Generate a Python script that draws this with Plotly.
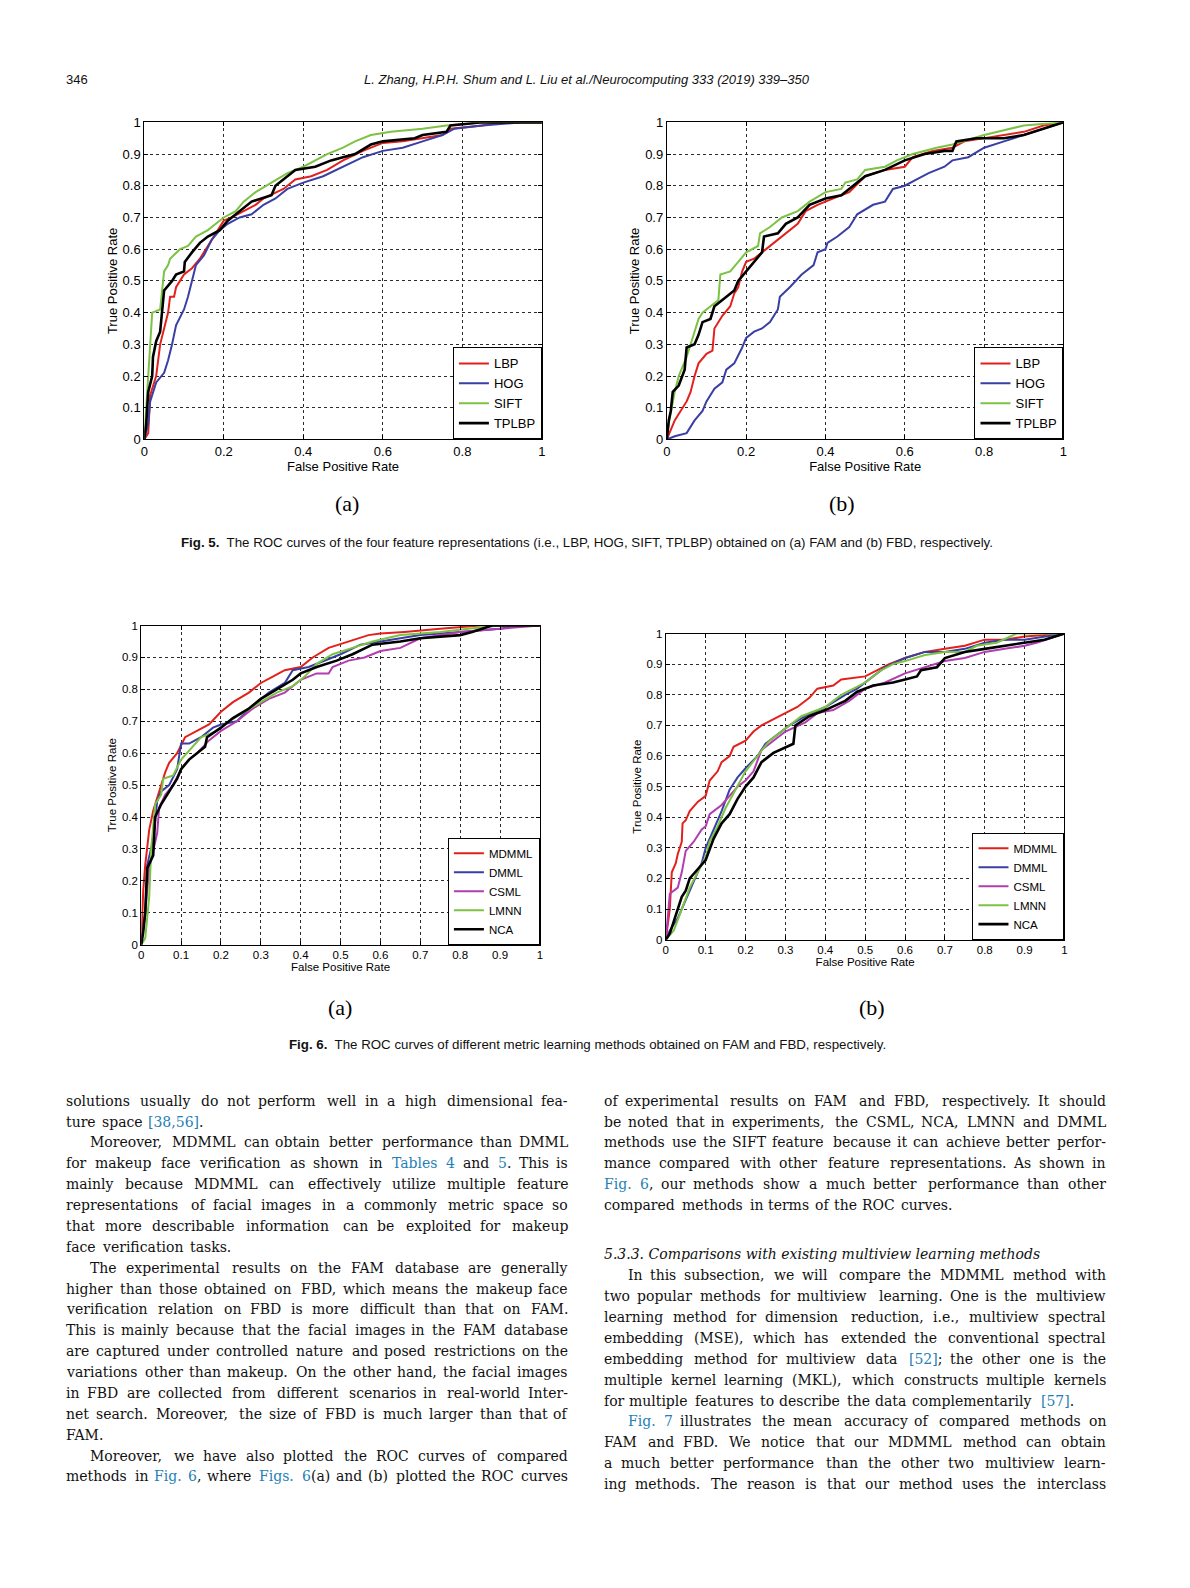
import plotly.graph_objects as go

W, H = 1190, 1588          # page size of the reference
PAGE_OFF = 8               # html body margin
FIG_W, FIG_H = W - 2 * PAGE_OFF, H - 2 * PAGE_OFF - 6
# measured mapping between requested and photographed positions (compensated below)
SX, CX = 0.994, 2.7
SY, CY = 0.990, 6.8
LEFT_BEARING = 2.5         # left-anchored text starts this far right of its anchor

# ---------------- DATA ----------------
# Fig. 5 (a) FAM
f5a_lbp_fpr = [0, 0.01, 0.015, 0.03, 0.04, 0.05, 0.06, 0.065, 0.075, 0.08, 0.1, 0.12, 0.14, 0.16, 0.18, 0.2, 0.22, 0.25, 0.28, 0.3, 0.35, 0.38, 0.42, 0.46, 0.5, 0.55, 0.6, 0.65, 0.7, 0.75, 0.77, 0.85, 0.9, 1]
f5a_lbp_tpr = [0, 0.02, 0.14, 0.2, 0.3, 0.35, 0.4, 0.45, 0.45, 0.48, 0.52, 0.54, 0.57, 0.61, 0.65, 0.69, 0.7, 0.72, 0.74, 0.76, 0.79, 0.82, 0.83, 0.85, 0.88, 0.91, 0.935, 0.94, 0.95, 0.96, 0.98, 0.99, 1.0, 1]
f5a_hog_fpr = [0, 0.01, 0.015, 0.03, 0.05, 0.06, 0.07, 0.08, 0.1, 0.11, 0.12, 0.13, 0.15, 0.17, 0.19, 0.21, 0.24, 0.27, 0.3, 0.33, 0.36, 0.4, 0.45, 0.5, 0.55, 0.6, 0.65, 0.7, 0.75, 0.78, 0.85, 0.95, 1]
f5a_hog_tpr = [0, 0.05, 0.12, 0.18, 0.21, 0.25, 0.3, 0.36, 0.41, 0.45, 0.5, 0.55, 0.58, 0.63, 0.66, 0.68, 0.7, 0.71, 0.74, 0.76, 0.79, 0.81, 0.83, 0.86, 0.89, 0.91, 0.92, 0.94, 0.96, 0.98, 0.99, 1.0, 1]
f5a_sift_fpr = [0, 0.005, 0.01, 0.015, 0.02, 0.04, 0.045, 0.05, 0.06, 0.065, 0.09, 0.11, 0.13, 0.16, 0.18, 0.2, 0.23, 0.25, 0.28, 0.32, 0.36, 0.4, 0.43, 0.46, 0.5, 0.53, 0.57, 0.62, 0.7, 0.76, 0.85, 1]
f5a_sift_tpr = [0, 0.1, 0.17, 0.3, 0.4, 0.41, 0.48, 0.53, 0.55, 0.57, 0.6, 0.61, 0.64, 0.66, 0.68, 0.7, 0.72, 0.75, 0.78, 0.81, 0.84, 0.86, 0.88, 0.9, 0.92, 0.94, 0.96, 0.97, 0.98, 0.99, 1.0, 1]
f5a_tplbp_fpr = [0, 0.005, 0.01, 0.02, 0.022, 0.03, 0.04, 0.045, 0.05, 0.07, 0.08, 0.1, 0.102, 0.12, 0.14, 0.16, 0.19, 0.21, 0.24, 0.27, 0.32, 0.33, 0.36, 0.38, 0.43, 0.47, 0.53, 0.57, 0.6, 0.68, 0.7, 0.76, 0.77, 0.85, 1]
f5a_tplbp_tpr = [0, 0.05, 0.15, 0.2, 0.26, 0.31, 0.34, 0.4, 0.47, 0.5, 0.52, 0.53, 0.56, 0.59, 0.62, 0.64, 0.66, 0.69, 0.72, 0.75, 0.77, 0.8, 0.83, 0.85, 0.86, 0.88, 0.9, 0.93, 0.94, 0.95, 0.96, 0.97, 0.99, 1.0, 1]

# Fig. 5 (b) FBD
f5b_lbp_fpr = [0, 0.01, 0.02, 0.03, 0.04, 0.05, 0.06, 0.07, 0.08, 0.1, 0.115, 0.12, 0.14, 0.16, 0.17, 0.18, 0.19, 0.2, 0.22, 0.25, 0.28, 0.31, 0.33, 0.35, 0.38, 0.42, 0.46, 0.5, 0.55, 0.6, 0.62, 0.67, 0.72, 0.75, 0.8, 0.9, 0.95, 1]
f5b_lbp_tpr = [0, 0.03, 0.06, 0.08, 0.1, 0.12, 0.15, 0.2, 0.24, 0.27, 0.28, 0.35, 0.39, 0.42, 0.46, 0.48, 0.53, 0.56, 0.57, 0.6, 0.63, 0.66, 0.68, 0.72, 0.74, 0.76, 0.78, 0.83, 0.85, 0.86, 0.89, 0.91, 0.92, 0.94, 0.95, 0.97, 0.99, 1]
f5b_hog_fpr = [0, 0.02, 0.05, 0.07, 0.09, 0.1, 0.12, 0.14, 0.15, 0.17, 0.19, 0.2, 0.22, 0.24, 0.26, 0.28, 0.285, 0.31, 0.34, 0.37, 0.38, 0.4, 0.405, 0.43, 0.46, 0.48, 0.52, 0.55, 0.57, 0.6, 0.63, 0.66, 0.7, 0.72, 0.76, 0.8, 0.85, 0.9, 0.95, 1]
f5b_hog_tpr = [0, 0.01, 0.02, 0.06, 0.09, 0.12, 0.16, 0.18, 0.22, 0.24, 0.29, 0.32, 0.34, 0.35, 0.37, 0.41, 0.45, 0.48, 0.52, 0.55, 0.59, 0.6, 0.62, 0.64, 0.67, 0.71, 0.74, 0.75, 0.79, 0.8, 0.82, 0.84, 0.86, 0.88, 0.89, 0.92, 0.94, 0.96, 0.98, 1]
f5b_sift_fpr = [0, 0.005, 0.02, 0.03, 0.05, 0.06, 0.07, 0.08, 0.09, 0.11, 0.13, 0.135, 0.16, 0.18, 0.2, 0.23, 0.235, 0.26, 0.29, 0.33, 0.36, 0.4, 0.44, 0.45, 0.48, 0.5, 0.55, 0.58, 0.62, 0.68, 0.72, 0.8, 0.9, 1]
f5b_sift_tpr = [0, 0.05, 0.15, 0.2, 0.26, 0.3, 0.34, 0.38, 0.4, 0.42, 0.44, 0.52, 0.53, 0.56, 0.59, 0.61, 0.65, 0.67, 0.7, 0.72, 0.75, 0.78, 0.79, 0.81, 0.82, 0.85, 0.86, 0.88, 0.9, 0.92, 0.93, 0.96, 0.99, 1]
f5b_tplbp_fpr = [0, 0.005, 0.01, 0.015, 0.03, 0.04, 0.045, 0.05, 0.07, 0.08, 0.09, 0.11, 0.12, 0.14, 0.17, 0.18, 0.2, 0.22, 0.24, 0.245, 0.28, 0.3, 0.33, 0.36, 0.4, 0.44, 0.47, 0.5, 0.55, 0.6, 0.65, 0.7, 0.72, 0.73, 0.78, 0.85, 0.9, 0.95, 1]
f5b_tplbp_tpr = [0, 0.06, 0.09, 0.15, 0.17, 0.2, 0.22, 0.29, 0.3, 0.33, 0.37, 0.38, 0.42, 0.44, 0.47, 0.5, 0.53, 0.56, 0.59, 0.64, 0.65, 0.68, 0.7, 0.74, 0.76, 0.77, 0.8, 0.83, 0.85, 0.88, 0.9, 0.91, 0.91, 0.94, 0.95, 0.95, 0.96, 0.98, 1]

# Fig. 6 (a) FAM
f6a_mdmml_fpr = [0, 0.005, 0.01, 0.015, 0.02, 0.03, 0.05, 0.06, 0.07, 0.09, 0.11, 0.14, 0.17, 0.2, 0.23, 0.27, 0.3, 0.33, 0.36, 0.4, 0.43, 0.47, 0.52, 0.57, 0.6, 0.66, 0.75, 0.85, 1]
f6a_mdmml_tpr = [0, 0.17, 0.25, 0.3, 0.36, 0.42, 0.5, 0.54, 0.57, 0.6, 0.65, 0.67, 0.69, 0.73, 0.76, 0.79, 0.82, 0.84, 0.86, 0.87, 0.9, 0.93, 0.95, 0.97, 0.975, 0.98, 0.99, 1.0, 1]
f6a_dmml_fpr = [0, 0.01, 0.015, 0.03, 0.04, 0.05, 0.07, 0.09, 0.1, 0.12, 0.15, 0.18, 0.2, 0.24, 0.28, 0.32, 0.36, 0.38, 0.42, 0.46, 0.5, 0.55, 0.6, 0.7, 0.8, 0.9, 0.95, 1]
f6a_dmml_tpr = [0, 0.1, 0.25, 0.33, 0.45, 0.48, 0.5, 0.55, 0.63, 0.63, 0.65, 0.68, 0.69, 0.7, 0.75, 0.79, 0.82, 0.86, 0.87, 0.89, 0.91, 0.94, 0.95, 0.97, 0.98, 0.99, 1.0, 1]
f6a_csml_fpr = [0, 0.01, 0.02, 0.03, 0.04, 0.045, 0.06, 0.08, 0.1, 0.12, 0.14, 0.17, 0.2, 0.24, 0.28, 0.32, 0.36, 0.4, 0.44, 0.47, 0.48, 0.52, 0.56, 0.6, 0.65, 0.7, 0.8, 0.9, 1]
f6a_csml_tpr = [0, 0.1, 0.24, 0.3, 0.35, 0.43, 0.47, 0.5, 0.55, 0.58, 0.6, 0.64, 0.67, 0.7, 0.74, 0.77, 0.79, 0.83, 0.85, 0.85, 0.87, 0.89, 0.9, 0.92, 0.93, 0.96, 0.98, 0.99, 1]
f6a_lmnn_fpr = [0, 0.01, 0.02, 0.025, 0.035, 0.05, 0.055, 0.08, 0.1, 0.13, 0.15, 0.19, 0.22, 0.26, 0.3, 0.34, 0.38, 0.41, 0.44, 0.48, 0.53, 0.58, 0.65, 0.75, 0.82, 0.9, 1]
f6a_lmnn_tpr = [0, 0.02, 0.15, 0.3, 0.44, 0.47, 0.52, 0.53, 0.58, 0.62, 0.65, 0.67, 0.7, 0.73, 0.76, 0.79, 0.81, 0.84, 0.88, 0.91, 0.93, 0.95, 0.97, 0.98, 0.99, 1.0, 1]
f6a_nca_fpr = [0, 0.005, 0.01, 0.015, 0.03, 0.035, 0.05, 0.07, 0.09, 0.1, 0.12, 0.15, 0.16, 0.165, 0.2, 0.23, 0.27, 0.3, 0.34, 0.38, 0.4, 0.44, 0.49, 0.53, 0.58, 0.65, 0.7, 0.8, 0.83, 0.88, 1]
f6a_nca_tpr = [0, 0.04, 0.1, 0.24, 0.28, 0.4, 0.44, 0.48, 0.52, 0.55, 0.58, 0.61, 0.62, 0.65, 0.68, 0.71, 0.74, 0.77, 0.8, 0.83, 0.85, 0.87, 0.89, 0.91, 0.94, 0.95, 0.96, 0.97, 0.98, 1.0, 1]

# Fig. 6 (b) FBD
f6b_mdmml_fpr = [0, 0.005, 0.01, 0.015, 0.025, 0.03, 0.04, 0.042, 0.05, 0.06, 0.08, 0.1, 0.11, 0.13, 0.14, 0.16, 0.17, 0.2, 0.22, 0.24, 0.27, 0.3, 0.33, 0.36, 0.38, 0.42, 0.44, 0.5, 0.53, 0.56, 0.6, 0.65, 0.7, 0.75, 0.8, 0.85, 0.9, 1]
f6b_mdmml_tpr = [0, 0.06, 0.1, 0.22, 0.25, 0.28, 0.32, 0.38, 0.39, 0.42, 0.45, 0.47, 0.52, 0.55, 0.58, 0.6, 0.63, 0.65, 0.68, 0.7, 0.72, 0.74, 0.76, 0.79, 0.82, 0.83, 0.85, 0.86, 0.88, 0.9, 0.92, 0.94, 0.95, 0.96, 0.98, 0.98, 0.99, 1]
f6b_dmml_fpr = [0, 0.01, 0.03, 0.05, 0.07, 0.09, 0.1, 0.12, 0.14, 0.16, 0.18, 0.2, 0.23, 0.25, 0.28, 0.31, 0.35, 0.4, 0.45, 0.48, 0.52, 0.55, 0.6, 0.65, 0.7, 0.75, 0.8, 0.85, 0.9, 0.95, 1]
f6b_dmml_tpr = [0, 0.03, 0.07, 0.13, 0.19, 0.25, 0.3, 0.36, 0.42, 0.49, 0.53, 0.56, 0.6, 0.64, 0.67, 0.7, 0.73, 0.76, 0.8, 0.82, 0.86, 0.89, 0.92, 0.94, 0.94, 0.95, 0.97, 0.98, 0.98, 0.99, 1]
f6b_csml_fpr = [0, 0.005, 0.01, 0.03, 0.04, 0.05, 0.07, 0.09, 0.1, 0.11, 0.14, 0.16, 0.18, 0.2, 0.22, 0.24, 0.27, 0.3, 0.35, 0.38, 0.42, 0.46, 0.5, 0.55, 0.6, 0.65, 0.7, 0.75, 0.8, 0.85, 0.9, 0.93, 1]
f6b_csml_tpr = [0, 0.08, 0.15, 0.17, 0.22, 0.29, 0.32, 0.36, 0.37, 0.41, 0.44, 0.47, 0.5, 0.52, 0.55, 0.62, 0.65, 0.68, 0.71, 0.74, 0.75, 0.78, 0.82, 0.84, 0.87, 0.89, 0.91, 0.92, 0.94, 0.95, 0.96, 0.97, 1]
f6b_lmnn_fpr = [0, 0.02, 0.04, 0.06, 0.08, 0.1, 0.11, 0.13, 0.15, 0.17, 0.2, 0.23, 0.26, 0.3, 0.34, 0.4, 0.44, 0.5, 0.54, 0.57, 0.6, 0.65, 0.7, 0.75, 0.78, 0.83, 0.88, 1]
f6b_lmnn_tpr = [0, 0.03, 0.1, 0.17, 0.22, 0.27, 0.32, 0.37, 0.43, 0.48, 0.55, 0.6, 0.65, 0.69, 0.73, 0.76, 0.8, 0.84, 0.88, 0.9, 0.91, 0.93, 0.94, 0.94, 0.96, 0.97, 1.0, 1]
f6b_nca_fpr = [0, 0.01, 0.02, 0.03, 0.04, 0.05, 0.06, 0.08, 0.1, 0.12, 0.14, 0.16, 0.18, 0.2, 0.22, 0.24, 0.27, 0.32, 0.325, 0.36, 0.4, 0.45, 0.48, 0.52, 0.57, 0.6, 0.63, 0.64, 0.68, 0.7, 0.75, 0.8, 0.85, 0.9, 0.95, 1]
f6b_nca_tpr = [0, 0.02, 0.06, 0.1, 0.14, 0.16, 0.2, 0.23, 0.26, 0.33, 0.38, 0.41, 0.46, 0.5, 0.53, 0.58, 0.61, 0.64, 0.7, 0.73, 0.75, 0.78, 0.81, 0.83, 0.84, 0.85, 0.86, 0.88, 0.89, 0.92, 0.94, 0.95, 0.96, 0.97, 0.98, 1]

feature_names = ["LBP", "HOG", "SIFT", "TPLBP"]
method_names = ["MDMML", "DMML", "CSML", "LMNN", "NCA"]
fig5_xticks = [0, 0.2, 0.4, 0.6, 0.8, 1]
fig6_xticks = [0, 0.1, 0.2, 0.3, 0.4, 0.5, 0.6, 0.7, 0.8, 0.9, 1]
yticks = [0, 0.1, 0.2, 0.3, 0.4, 0.5, 0.6, 0.7, 0.8, 0.9, 1]

# ---------------- STYLE ----------------
RED, BLUE, GREEN, BLACK, MAGENTA = "#e3211c", "#3a3fa5", "#7cc243", "#000000", "#b23db0"
SANS = "Liberation Sans, Arial, sans-serif"
SERIF = "DejaVu Serif, serif"
TEXT = "#111111"
LINK = "#1f7fb6"


def fx(p):
    return ((p - CX) / SX - PAGE_OFF) / FIG_W


def fy(p):
    return 1 - ((p - CY) / SY - PAGE_OFF) / FIG_H


def lab(v):
    return f"{v:g}"


fig = go.Figure()

panels = [
    dict(curves=[(feature_names[0], f5a_lbp_fpr, f5a_lbp_tpr, RED, 2),
                 (feature_names[1], f5a_hog_fpr, f5a_hog_tpr, BLUE, 2),
                 (feature_names[2], f5a_sift_fpr, f5a_sift_tpr, GREEN, 2),
                 (feature_names[3], f5a_tplbp_fpr, f5a_tplbp_tpr, BLACK, 2.6)],
         xpx=(143, 541), ypx=(122, 439), xt=fig5_xticks, fs=13, lfs=13),
    dict(curves=[(feature_names[0], f5b_lbp_fpr, f5b_lbp_tpr, RED, 2),
                 (feature_names[1], f5b_hog_fpr, f5b_hog_tpr, BLUE, 2),
                 (feature_names[2], f5b_sift_fpr, f5b_sift_tpr, GREEN, 2),
                 (feature_names[3], f5b_tplbp_fpr, f5b_tplbp_tpr, BLACK, 2.6)],
         xpx=(666, 1063), ypx=(122, 439), xt=fig5_xticks, fs=13, lfs=13),
    dict(curves=[(method_names[0], f6a_mdmml_fpr, f6a_mdmml_tpr, RED, 2),
                 (method_names[1], f6a_dmml_fpr, f6a_dmml_tpr, BLUE, 2),
                 (method_names[2], f6a_csml_fpr, f6a_csml_tpr, MAGENTA, 2),
                 (method_names[3], f6a_lmnn_fpr, f6a_lmnn_tpr, GREEN, 2),
                 (method_names[4], f6a_nca_fpr, f6a_nca_tpr, BLACK, 2.6)],
         xpx=(140, 539), ypx=(625, 944), xt=fig6_xticks, fs=11.5, lfs=11.5),
    dict(curves=[(method_names[0], f6b_mdmml_fpr, f6b_mdmml_tpr, RED, 2),
                 (method_names[1], f6b_dmml_fpr, f6b_dmml_tpr, BLUE, 2),
                 (method_names[2], f6b_csml_fpr, f6b_csml_tpr, MAGENTA, 2),
                 (method_names[3], f6b_lmnn_fpr, f6b_lmnn_tpr, GREEN, 2),
                 (method_names[4], f6b_nca_fpr, f6b_nca_tpr, BLACK, 2.6)],
         xpx=(665, 1064), ypx=(633, 939), xt=fig6_xticks, fs=11.5, lfs=11.5),
]

layout_upd = {}
for i, p in enumerate(panels, start=1):
    suf = "" if i == 1 else str(i)
    leg = "legend" if i == 1 else f"legend{i}"
    for name, x, y, c, w in p["curves"]:
        fig.add_trace(go.Scatter(x=x, y=y, mode="lines", name=name,
                                 line=dict(color=c, width=w),
                                 xaxis="x" + suf, yaxis="y" + suf, legend=leg,
                                 hoverinfo="skip"))
    common = dict(range=[0, 1], ticks="inside", ticklen=4, tickcolor="black",
                  showline=True, linecolor="black", linewidth=1, mirror="ticks",
                  showgrid=True, gridcolor="#2a2a2a", griddash="dot", gridwidth=1,
                  zeroline=False, fixedrange=True,
                  tickfont=dict(family=SANS, size=p["fs"], color="black"))
    x0, x1 = p["xpx"]
    y0, y1 = p["ypx"]
    layout_upd["xaxis" + suf] = dict(
        common, domain=[fx(x0), fx(x1)], anchor="y" + suf,
        tickvals=p["xt"], ticktext=[lab(v) for v in p["xt"]],
        title=dict(text="False Positive Rate", standoff=2,
                   font=dict(family=SANS, size=p["fs"], color="black")))
    layout_upd["yaxis" + suf] = dict(
        common, domain=[fy(y1), fy(y0)], anchor="x" + suf,
        tickvals=yticks, ticktext=[lab(v) for v in yticks],
        title=dict(text="True Positive Rate", standoff=2,
                   font=dict(family=SANS, size=p["fs"], color="black")))
    layout_upd[leg] = dict(x=fx(x1), y=fy(y1), xanchor="right", yanchor="bottom",
                           bordercolor="black", borderwidth=1, bgcolor="white",
                           font=dict(family=SANS, size=p["lfs"], color="black"),
                           itemwidth=30, tracegroupgap=0, itemclick=False,
                           itemdoubleclick=False)

annotations = []


def add_text(text, xp, yp, size, family=SANS, anchor="center", color=TEXT):
    if anchor == "left":
        xp -= LEFT_BEARING
    annotations.append(dict(text=text, x=fx(xp), y=fy(yp), xref="paper", yref="paper",
                            xanchor=anchor, yanchor="middle", showarrow=False,
                            borderpad=0, font=dict(family=family, size=size, color=color)))


# header
add_text("346", 66, 79, 13, anchor="left")
add_text("<i>L. Zhang, H.P.H. Shum and L. Liu et al./Neurocomputing 333 (2019) 339–350</i>",
         586, 79, 13)
# sub-figure labels and captions
add_text("(a)", 346, 503, 22, family="Liberation Serif, serif", color="black")
add_text("(b)", 841, 503, 22, family="Liberation Serif, serif", color="black")
add_text("(a)", 339, 1007, 22, family="Liberation Serif, serif", color="black")
add_text("(b)", 871, 1007, 22, family="Liberation Serif, serif", color="black")
add_text("<b>Fig. 5.</b>  The ROC curves of the four feature representations (i.e., LBP, HOG, SIFT, TPLBP) "
         "obtained on (a) FAM and (b) FBD, respectively.", 586, 542, 13.3)
add_text("<b>Fig. 6.</b>  The ROC curves of different metric learning methods obtained on FAM and FBD, "
         "respectively.", 587, 1044, 13.3)

# ---------------- body text (justified word by word) ----------------
DV = {' ': .318, 'a': .596, 'b': .641, 'c': .560, 'd': .641, 'e': .592, 'f': .370, 'g': .641,
      'h': .643, 'i': .320, 'j': .320, 'k': .611, 'l': .320, 'm': .957, 'n': .643, 'o': .602,
      'p': .641, 'q': .641, 'r': .478, 's': .513, 't': .402, 'u': .643, 'v': .565, 'w': .853,
      'x': .564, 'y': .565, 'z': .522,
      'A': .722, 'B': .735, 'C': .765, 'D': .802, 'E': .730, 'F': .694, 'G': .799, 'H': .872,
      'I': .395, 'J': .401, 'K': .747, 'L': .664, 'M': 1.024, 'N': .875, 'O': .820, 'P': .673,
      'Q': .820, 'R': .753, 'S': .685, 'T': .667, 'U': .843, 'V': .722, 'W': 1.028, 'X': .712,
      'Y': .660, 'Z': .695, '.': .318, ',': .318, ';': .337, ':': .337, '(': .390, ')': .390,
      '[': .390, ']': .390, '-': .338, '–': .500}
for d in "0123456789":
    DV[d] = .636
WIDTH_FUDGE = 1.04
BODY_FS = 14


def tw(s, fs):
    return fs * WIDTH_FUDGE * sum(DV.get(ch, 0.6) for ch in s)


def html(w):
    return w.replace("{", f"<span style='color:{LINK}'>").replace("}", "</span>")


def plain(w):
    return w.replace("{", "").replace("}", "")


def set_line(text, left, right, y, indent, justify, fs=BODY_FS):
    words = text.split(" ")
    ws = [tw(plain(w), fs) for w in words]
    x0 = left + indent
    n = len(words)
    if justify and n > 1:
        gap = max((right - x0 - sum(ws)) / (n - 1), 0.2 * fs)
    else:
        gap = DV[' '] * fs
    half = n // 2 if justify else n
    for i, w in enumerate(words):
        if i < half:
            x, anc = x0 + sum(ws[:i]) + i * gap, "left"
        else:
            x, anc = right - sum(ws[i + 1:]) - (n - 1 - i) * gap, "right"
        add_text(html(w), x, y, fs, family=SERIF, anchor=anc)


LEFT_COL = (66.5, 568.5)
RIGHT_COL = (604.5, 1106.5)
LINE_H = 20.86
INDENT = 24

left_lines = [
    ("solutions usually do not perform well in a high dimensional fea-", 0, True),
    ("ture space {[38,56]}.", 0, False),
    ("Moreover, MDMML can obtain better performance than DMML", 1, True),
    ("for makeup face verification as shown in {Tables} {4} and {5}. This is", 0, True),
    ("mainly because MDMML can effectively utilize multiple feature", 0, True),
    ("representations of facial images in a commonly metric space so", 0, True),
    ("that more describable information can be exploited for makeup", 0, True),
    ("face verification tasks.", 0, False),
    ("The experimental results on the FAM database are generally", 1, True),
    ("higher than those obtained on FBD, which means the makeup face", 0, True),
    ("verification relation on FBD is more difficult than that on FAM.", 0, True),
    ("This is mainly because that the facial images in the FAM database", 0, True),
    ("are captured under controlled nature and posed restrictions on the", 0, True),
    ("variations other than makeup. On the other hand, the facial images", 0, True),
    ("in FBD are collected from different scenarios in real-world Inter-", 0, True),
    ("net search. Moreover, the size of FBD is much larger than that of", 0, True),
    ("FAM.", 0, False),
    ("Moreover, we have also plotted the ROC curves of compared", 1, True),
    ("methods in {Fig.} {6}, where {Figs.} {6}(a) and (b) plotted the ROC curves", 0, True),
]
right_lines_a = [
    ("of experimental results on FAM and FBD, respectively. It should", 0, True),
    ("be noted that in experiments, the CSML, NCA, LMNN and DMML", 0, True),
    ("methods use the SIFT feature because it can achieve better perfor-", 0, True),
    ("mance compared with other feature representations. As shown in", 0, True),
    ("{Fig.} {6}, our methods show a much better performance than other", 0, True),
    ("compared methods in terms of the ROC curves.", 0, False),
]
section_heading = "5.3.3. Comparisons with existing multiview learning methods"
right_lines_b = [
    ("In this subsection, we will compare the MDMML method with", 1, True),
    ("two popular methods for multiview learning. One is the multiview", 0, True),
    ("learning method for dimension reduction, i.e., multiview spectral", 0, True),
    ("embedding (MSE), which has extended the conventional spectral", 0, True),
    ("embedding method for multiview data {[52]}; the other one is the", 0, True),
    ("multiple kernel learning (MKL), which constructs multiple kernels", 0, True),
    ("for multiple features to describe the data complementarily {[57]}.", 0, False),
    ("{Fig.} {7} illustrates the mean accuracy of compared methods on", 1, True),
    ("FAM and FBD. We notice that our MDMML method can obtain", 0, True),
    ("a much better performance than the other two multiview learn-", 0, True),
    ("ing methods. The reason is that our method uses the interclass", 0, True),
]

for k, (t, ind, j) in enumerate(left_lines):
    set_line(t, LEFT_COL[0], LEFT_COL[1], 1100 + k * LINE_H, ind * INDENT, j)
for k, (t, ind, j) in enumerate(right_lines_a):
    set_line(t, RIGHT_COL[0], RIGHT_COL[1], 1100 + k * LINE_H, ind * INDENT, j)
add_text(f"<i>{section_heading}</i>", RIGHT_COL[0], 1253.5, BODY_FS, family=SERIF, anchor="left")
for k, (t, ind, j) in enumerate(right_lines_b):
    set_line(t, RIGHT_COL[0], RIGHT_COL[1], 1274.5 + k * LINE_H, ind * INDENT, j)

fig.update_layout(
    width=FIG_W, height=FIG_H, margin=dict(l=0, r=0, t=0, b=0, pad=0),
    paper_bgcolor="white", plot_bgcolor="white", showlegend=True,
    annotations=annotations, **layout_upd)

fig.write_html("out.html", config={"displayModeBar": False})
